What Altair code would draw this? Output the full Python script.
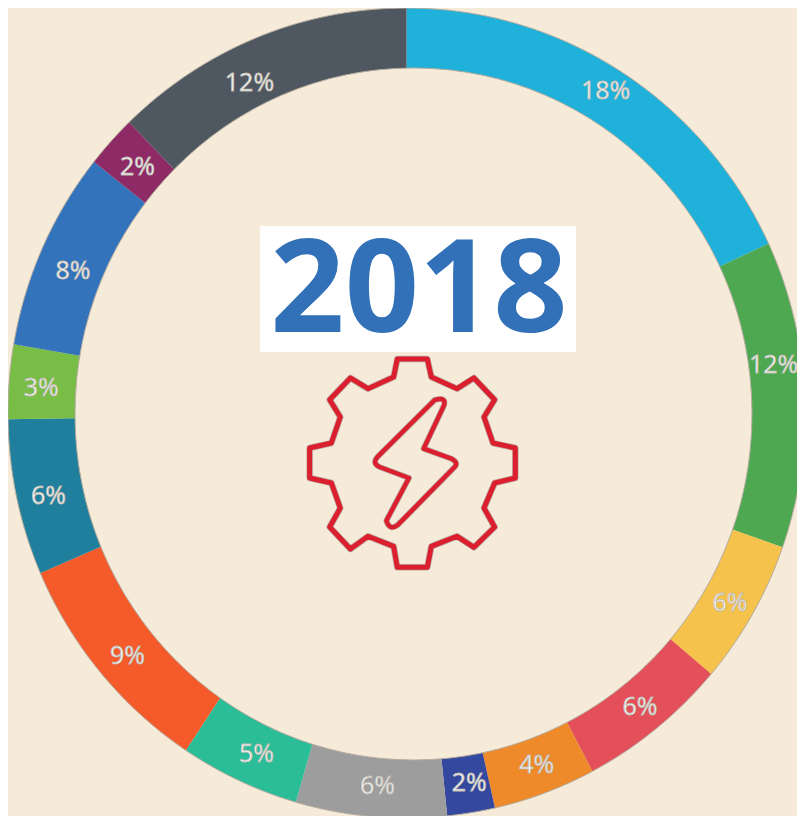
import altair as alt
import pandas as pd

# Ring segments, clockwise from 12 o'clock
labels = ["18%", "12%", "6%", "6%", "4%", "2%", "6%", "5%", "9%", "6%", "3%", "8%", "2%", "12%"]
shares = [18.0, 12.4, 5.8, 6.1, 4.1, 1.9, 6.0, 4.8, 9.2, 6.3, 3.0, 8.0, 2.1, 12.1]
colors = ["#1fb1d9", "#4ea852", "#f5c24b", "#e35059", "#ee8a2a", "#3548a0", "#9d9d9d",
          "#2bbd98", "#f55a2a", "#1f7f9c", "#78bd45", "#3273bb", "#8e2a66", "#4f5861"]
headline = ["2018"]

BG = "#f6ead8"
EDGE = "#b4aca0"
CX, CY = 398.5, 405
W, H = 789, 808

# Decorative icon outlines (glyph shapes, normalised around the icon's centre)
gear = [(443,433),(533,433),(545,487),(622,522),(673,490),(735,555),(703,607),(730,685),
        (797,700),(797,790),(735,805),(703,880),(735,937),(673,998),(622,965),(545,995),
        (533,1058),(443,1058),(432,995),(355,965),(302,1003),(240,937),(272,880),(245,805),
        (180,790),(180,700),(245,685),(272,607),(240,555),(302,490),(355,522),(432,487)]


def n(p):
    return f"{(p[0]-487)/315:.3f},{(p[1]-745)/315:.3f}"


gear_path = "M" + "L".join(n(p) for p in gear) + "Z"
bolt_path = ("M" + n((555, 556)) + "Q" + n((590, 545)) + " " + n((583, 572)) + "L" + n((522, 702))
             + "L" + n((605, 732)) + "Q" + n((630, 745)) + " " + n((612, 760)) + "L" + n((445, 930))
             + "Q" + n((420, 950)) + " " + n((410, 918)) + "L" + n((478, 790)) + "L" + n((390, 757))
             + "Q" + n((365, 745)) + " " + n((385, 725)) + "Z")


def ellipse(rx, ry, unit=450.0):
    # counter-clockwise ellipse in a symbol's unit square
    a, b = rx / unit, ry / unit
    return f"M{-a:.4f},0A{a:.4f},{b:.4f} 0 1 0 {a:.4f},0A{a:.4f},{b:.4f} 0 1 0 {-a:.4f},0Z"


outer_mask = "M-1,-1L1,-1L1,1L-1,1Z" + ellipse(398.5, 405)
inner_disc = ellipse(338.5, 346)

# Labels that do not sit at their segment's middle: index -> pixel offset
NUDGES = {0: (-3, -14), 1: (-6, -35), 11: (0, 6), 13: (-23, 9)}
df = pd.DataFrame({"order": range(len(shares)), "share": shares, "color": colors})
df["plain"] = [t if i not in NUDGES else "" for i, t in enumerate(labels)]
for i in NUDGES:
    df[f"n{i}"] = [t if j == i else "" for j, t in enumerate(labels)]
one = pd.DataFrame({"t": headline})
theta = alt.Theta("share:Q", stack=True, scale=alt.Scale(domain=[0, sum(shares)], range=[0, 6.28319]))
order = alt.Order("order:Q")
cx, cy = alt.value(CX), alt.value(CY)

ring = alt.Chart(df).mark_arc(radius=425, innerRadius=320).encode(
    theta=theta, order=order, x=cx, y=cy, color=alt.Color("color:N", scale=None))


def shape(path, x, y):
    return alt.Chart(one).mark_point(shape=path, size=810000, filled=True, fill=BG, stroke=EDGE,
                                     strokeWidth=1, opacity=1).encode(x=alt.value(x), y=alt.value(y))


def label_layer(field, dx=0, dy=0):
    return alt.Chart(df).mark_text(
        radius=370, font="Open Sans", fontSize=25, fill="#ffffff", stroke="#bdb9b0", strokeWidth=0.8,
        align="center", baseline="middle", dx=dx, dy=dy
    ).encode(theta=theta, order=order, x=alt.value(402), y=alt.value(409.5), text=f"{field}:N")


box = alt.Chart(one).mark_rect(color="#ffffff").encode(
    x=alt.value(252), x2=alt.value(568), y=alt.value(218), y2=alt.value(344))
year = alt.Chart(one).mark_text(
    font="Open Sans", fontWeight="bold", fontSize=130, color="#3271b8", align="center", baseline="middle"
).encode(x=alt.value(411), y=alt.value(285), text="t:N")


def icon(path, color, width):
    return alt.Chart(one).mark_point(
        shape=path, size=44100, filled=False, stroke=color, strokeWidth=width, opacity=1, strokeJoin="round"
    ).encode(x=alt.value(404), y=alt.value(455))


chart = alt.layer(ring, shape(outer_mask, CX, CY), shape(inner_disc, 405.5, 406),
                  label_layer("plain"),
                  *[label_layer(f"n{i}", dx=d[0], dy=d[1]) for i, d in NUDGES.items()],
                  box, year,
                  icon(gear_path, "#b9aea6", 6.5), icon(gear_path, "#dc1f2e", 5),
                  icon(bolt_path, "#b9aea6", 6), icon(bolt_path, "#dc1f2e", 4.5)
                  ).properties(width=W, height=H, background=BG, padding=0,
                               autosize=alt.AutoSizeParams(type="none")
                  ).configure_view(stroke=None)

chart.save("out.html", embed_options={"renderer": "svg", "actions": False})
